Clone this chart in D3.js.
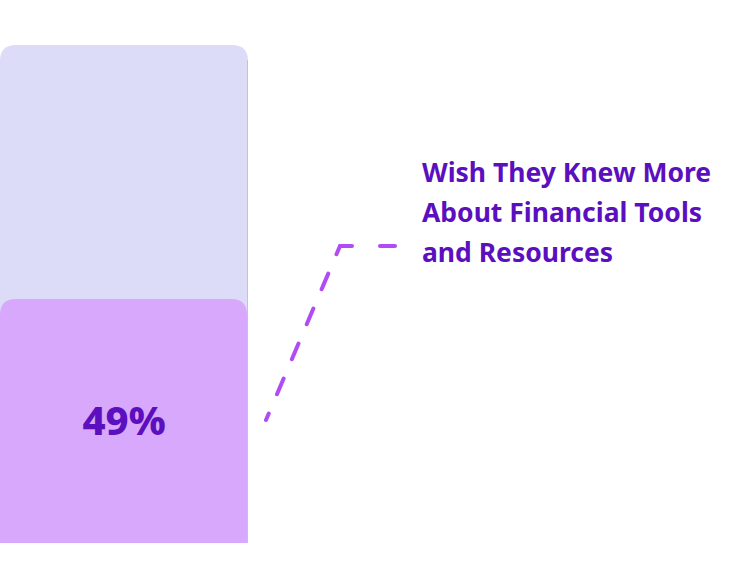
<!DOCTYPE html>
<html>
<head>
<meta charset="utf-8">
<script src="https://cdn.jsdelivr.net/npm/d3@7"></script>
<style>
  body { margin: 0; background: #fff; }
  text { font-family: "Noto Sans", "Open Sans", sans-serif; }
</style>
</head>
<body>
<div id="chart"></div>
<script>
// data
var categories = ["Wish They Knew More About Financial Tools and Resources"];
var values = [49];
var labelLines = ["Wish They Knew More", "About Financial Tools", "and Resources"];
var maxValue = 100;

var width = 740, height = 588;
var svg = d3.select("#chart").append("svg")
    .attr("width", width)
    .attr("height", height);

var x = d3.scaleBand().domain(categories).range([0, 248]).padding(0);
var y = d3.scaleLinear().domain([0, maxValue]).range([543, 45]);

// rounded top corners only
function topRounded(x0, y0, w, h, r) {
    return "M" + x0 + "," + (y0 + h) +
        "V" + (y0 + r) +
        "Q" + x0 + "," + y0 + " " + (x0 + r) + "," + y0 +
        "H" + (x0 + w - r) +
        "Q" + (x0 + w) + "," + y0 + " " + (x0 + w) + "," + (y0 + r) +
        "V" + (y0 + h) + "Z";
}

// background track
svg.selectAll(".track")
    .data(categories)
    .enter().append("path")
    .attr("d", function(d) { return topRounded(x(d), y(maxValue), x.bandwidth(), y(0) - y(maxValue), 16); })
    .attr("fill", "#dcdcf8");

svg.append("line")
    .attr("x1", x.range()[1] - 0.5).attr("x2", x.range()[1] - 0.5)
    .attr("y1", 60).attr("y2", y(0))
    .attr("stroke", "#c4c4cc").attr("stroke-width", 1);

// value bar
svg.selectAll(".bar")
    .data(values)
    .enter().append("path")
    .attr("d", function(d, i) { return topRounded(x(categories[i]), y(d), x.bandwidth() - 1, y(0) - y(d), 16); })
    .attr("fill", "#d8a8fc");

// value label
var valueY = 435;
svg.selectAll(".val")
    .data(values)
    .enter().append("text")
    .attr("x", function(d, i) { return x(categories[i]) + x.bandwidth() / 2; })
    .attr("y", valueY)
    .attr("text-anchor", "middle")
    .attr("font-size", 40)
    .attr("font-weight", 800)
    .attr("fill", "#5b0fbf")
    .text(function(d) { return d + "%"; });

// leader line: bar edge -> elbow -> label
var barRight = x.range()[1];
var p0 = [barRight + 18, valueY - 15];
var elbow = [barRight + 92, 246];
var p2 = [395, 246];

svg.append("path")
    .attr("d", d3.line()([elbow, p0]))
    .attr("fill", "none")
    .attr("stroke", "#b04cf5")
    .attr("stroke-width", 4)
    .attr("stroke-linecap", "round")
    .attr("stroke-dasharray", "17,21")
    .attr("stroke-dashoffset", 8);

svg.append("path")
    .attr("d", d3.line()([p2, elbow]))
    .attr("fill", "none")
    .attr("stroke", "#b04cf5")
    .attr("stroke-width", 4)
    .attr("stroke-linecap", "round")
    .attr("stroke-dasharray", "15,28");

// category label
var lbl = svg.append("text")
    .attr("x", 422)
    .attr("y", 182)
    .attr("font-size", 26.5)
    .attr("font-weight", 700)
    .attr("fill", "#5b0fbf");
lbl.selectAll("tspan")
    .data(labelLines)
    .enter().append("tspan")
    .attr("x", 422)
    .attr("dy", function(d, i) { return i === 0 ? 0 : 40; })
    .text(function(d) { return d; });
</script>
</body>
</html>
